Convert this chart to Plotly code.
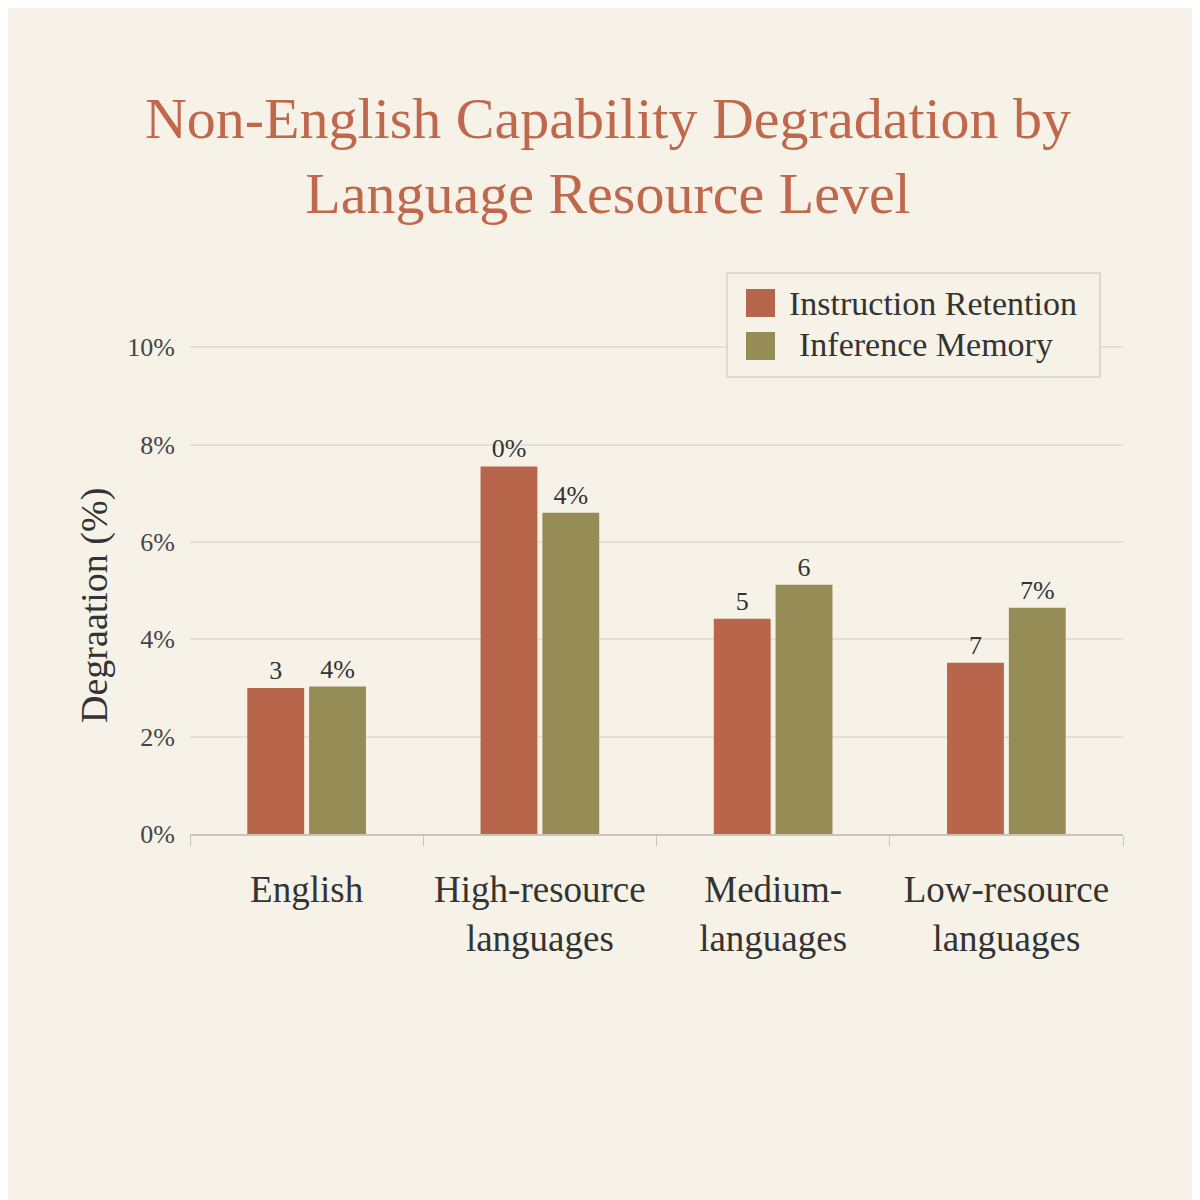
import plotly.graph_objects as go

# values
categories = ['English', 'High-resource<br>languages', 'Medium-<br>languages', 'Low-resource<br>languages']
instruction_retention = [3.0, 7.55, 4.42, 3.52]
inference_memory = [3.03, 6.6, 5.12, 4.65]
# bar labels exactly as printed in the source chart
ir_labels = ['3', '0%', '5', '7']
im_labels = ['4%', '4%', '6', '7%']
y_ticks = [0, 2, 4, 6, 8, 10]
series_names = ['Instruction Retention', 'Inference Memory']

BG = '#F6F2E8'
IR_COLOR = '#B8664B'
IM_COLOR = '#958D55'
FONT = 'Liberation Serif, DejaVu Serif, serif'

fig = go.Figure()
fig.add_trace(go.Bar(
    name=series_names[0], x=categories, y=instruction_retention,
    marker=dict(color=IR_COLOR, line=dict(width=0)),
    text=ir_labels, textposition='outside', cliponaxis=False,
    textfont=dict(size=26, color='#333333', family=FONT),
))
fig.add_trace(go.Bar(
    name=series_names[1], x=categories, y=inference_memory,
    marker=dict(color=IM_COLOR, line=dict(width=0)),
    text=im_labels, textposition='outside', cliponaxis=False,
    textfont=dict(size=26, color='#333333', family=FONT),
))

# legend drawn by hand so the swatches can be as big as in the source
shapes = [
    dict(type='rect', xref='paper', yref='paper', x0=0.5756, x1=0.9753, y0=0.8857, y1=1.0872,
         line=dict(color='#DDDAD0', width=2), fillcolor=BG, layer='above'),
    dict(type='rect', xref='paper', yref='paper', x0=0.5959, x1=0.627, y0=1.0019, y1=1.0562,
         line=dict(width=0), fillcolor=IR_COLOR, layer='above'),
    dict(type='rect', xref='paper', yref='paper', x0=0.5959, x1=0.627, y0=0.9186, y1=0.9729,
         line=dict(width=0), fillcolor=IM_COLOR, layer='above'),
]
annotations = [
    dict(text=series_names[0], xref='paper', yref='paper', x=0.6399, y=1.029,
         xanchor='left', yanchor='middle', showarrow=False,
         font=dict(size=34, color='#333333', family=FONT)),
    dict(text=series_names[1], xref='paper', yref='paper', x=0.6506, y=0.9477,
         xanchor='left', yanchor='middle', showarrow=False,
         font=dict(size=34, color='#333333', family=FONT)),
    # y axis title sits a bit below the middle of the axis in the source
    dict(text='Degraation (%)', xref='paper', yref='paper', x=-0.1018, y=0.442,
         xanchor='center', yanchor='middle', textangle=-90, showarrow=False,
         font=dict(size=38, color='#333333', family=FONT)),
]

fig.update_layout(
    width=1200, height=1200,
    paper_bgcolor=BG, plot_bgcolor=BG,
    font=dict(family=FONT, color='#333333'),
    title=dict(
        text='Non-English Capability Degradation by<br>Language Resource Level',
        x=0.5, xanchor='center', y=0.892, yanchor='top',
        font=dict(size=58, color='#C0684C', family=FONT),
    ),
    margin=dict(l=182, r=85, t=310, b=374),
    barmode='group', bargap=0.47, bargroupgap=0.08,
    showlegend=False,
    shapes=shapes, annotations=annotations,
)

fig.update_yaxes(
    range=[0, 10.6], tickmode='array', tickvals=y_ticks,
    ticktext=[f'{v}%' for v in y_ticks],
    showgrid=True, gridcolor='#E4E0D6', gridwidth=1.5,
    zeroline=False, showline=False, ticks='',
    tickfont=dict(size=26, color='#444444', family=FONT),
    ticklabelstandoff=14,
)
fig.update_xaxes(
    showline=True, linecolor='#C8C4BA', linewidth=2,
    ticks='outside', tickson='boundaries', ticklen=10, tickcolor='#C8C4BA',
    tickfont=dict(size=37, color='#333333', family=FONT),
    ticklabelstandoff=22,
)

fig.write_html('out.html')
